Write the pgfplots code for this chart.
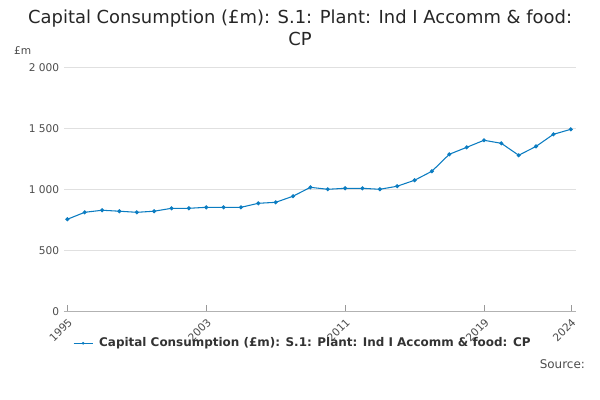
\documentclass[border=0pt]{standalone}
\usepackage{pgfplots}
\pgfplotsset{compat=1.18}
\usepackage{fontspec}
\setmainfont{DejaVu Sans}
\definecolor{ln}{HTML}{0B7CC1}
\begin{document}
\begin{tikzpicture}
\path[use as bounding box] (0,0) rectangle (15.875cm,10.583cm);
\node[font=\fontsize{13.5}{16}\selectfont,align=center,text=black!85] at (7.94cm,9.85cm) {Capital Consumption (£m): S.1: Plant: Ind I Accomm \& food:\\CP};
\node[font=\fontsize{8}{9}\selectfont,text=black!70,anchor=west] at (0.25cm,9.25cm) {£m};
\begin{axis}[at={(1.69cm,2.35cm)},anchor=south west,width=13.55cm,height=6.45cm,scale only axis,
 xmin=1994.8,xmax=2024.3,ymin=0,ymax=2000,
 axis x line*=bottom, axis y line*=left,
 y axis line style={draw=none},
 ytick={0,500,1000,1500,2000},
 yticklabels={0,500,1 000,1 500,2 000},
 y tick label style={font=\fontsize{8}{9}\selectfont,text=black!70},
 ytick style={draw=none},
 ymajorgrids, grid style={black!12},
 xtick={1995,2003,2011,2019,2024},
 xticklabels={1995,2003,2011,2019,2024},
 x tick label style={rotate=45,anchor=north east,font=\fontsize{8}{9}\selectfont,text=black!70},
 tick style={black!40}, x axis line style={black!30},
 clip=false]
\addplot[ln,thick,mark=*,mark size=1.1pt] coordinates {
(1995,754)(1996,811)(1997,828)(1998,820)(1999,811)(2000,820)(2001,844)(2002,844)(2003,852)(2004,852)
(2005,852)(2006,885)(2007,893)(2008,943)(2009,1016)(2010,1000)(2011,1008)(2012,1008)(2013,1000)(2014,1025)
(2015,1074)(2016,1148)(2017,1287)(2018,1344)(2019,1402)(2020,1377)(2021,1279)(2022,1352)(2023,1451)(2024,1492)};
\end{axis}
\draw[ln,thick] (1.95cm,1.5cm) -- (2.45cm,1.5cm);
\fill[ln] (2.2cm,1.5cm) circle (1.1pt);
\node[anchor=west,font=\fontsize{9}{11}\selectfont\bfseries,text=black!80] at (2.5cm,1.5cm) {Capital Consumption (£m): S.1: Plant: Ind I Accomm \& food: CP};
\node[anchor=east,font=\fontsize{9}{11}\selectfont,text=black!70] at (15.6cm,0.95cm) {Source:};
\end{tikzpicture}
\end{document}
